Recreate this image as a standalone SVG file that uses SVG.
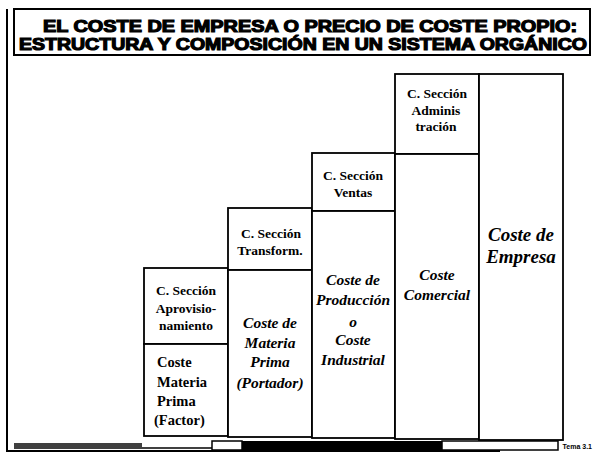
<svg xmlns="http://www.w3.org/2000/svg" width="595" height="454" viewBox="0 0 595 454">
<style>
.box{fill:#fff;stroke:#000;stroke-width:1.8}
.frame{fill:none;stroke:#000;stroke-width:2}
.t{font-family:"Liberation Serif","Times New Roman",serif;font-weight:bold;fill:#000;text-anchor:middle}
.s{font-size:13.5px}
.i{font-style:italic;font-size:15.5px}
.n{font-size:14.5px;text-anchor:start}
.title{font-family:"Liberation Sans",Arial,sans-serif;font-weight:900;font-size:17px;fill:#000;text-anchor:middle;stroke:#000;stroke-width:1.2}
</style>
<rect width="595" height="454" fill="#fff"/>
<g id="frame">
<path class="frame" d="M7,9 V451 H500"/>
<rect x="14" y="9" width="576" height="46" class="frame"/>
<text class="title" x="310" y="32" textLength="534" lengthAdjust="spacingAndGlyphs">EL COSTE DE EMPRESA O PRECIO DE COSTE PROPIO:</text>
<text class="title" x="303" y="50" textLength="568" lengthAdjust="spacingAndGlyphs">ESTRUCTURA Y COMPOSICIÓN EN UN  SISTEMA ORGÁNICO</text>
</g>
<g id="col1">
<rect class="box" x="144" y="268" width="84" height="76"/>
<rect class="box" x="144" y="344" width="84" height="92"/>
<text class="t s" x="186" y="295">C. Sección</text>
<text class="t s" x="186" y="313">Aprovisio-</text>
<text class="t s" x="186" y="330">namiento</text>
<text class="t n" x="157" y="367">Coste</text>
<text class="t n" x="157" y="387">Materia</text>
<text class="t n" x="157" y="406">Prima</text>
<text class="t n" x="154" y="425">(Factor)</text>
</g>
<g id="col2">
<rect class="box" x="228" y="208" width="84" height="62"/>
<rect class="box" x="228" y="270" width="84" height="167"/>
<text class="t s" x="271" y="238">C. Sección</text>
<text class="t s" x="270" y="255">Transform.</text>
<text class="t i" x="270" y="328">Coste de</text>
<text class="t i" x="270" y="348">Materia</text>
<text class="t i" x="270" y="367">Prima</text>
<text class="t i" x="270" y="388">(Portador)</text>
</g>
<g id="col3">
<rect class="box" x="312" y="153" width="83" height="58"/>
<rect class="box" x="312" y="211" width="83" height="227"/>
<text class="t s" x="353" y="180">C. Sección</text>
<text class="t s" x="353" y="197">Ventas</text>
<text class="t i" x="353" y="285">Coste de</text>
<text class="t i" x="353" y="305">Producción</text>
<text class="t i" x="353" y="327">o</text>
<text class="t i" x="353" y="345">Coste</text>
<text class="t i" x="353" y="365">Industrial</text>
</g>
<g id="col4">
<rect class="box" x="395" y="74" width="84" height="80"/>
<rect class="box" x="395" y="154" width="84" height="285"/>
<text class="t s" x="437" y="98">C. Sección</text>
<text class="t s" x="436" y="115">Adminis</text>
<text class="t s" x="436" y="131">tración</text>
<text class="t i" x="437" y="280">Coste</text>
<text class="t i" x="437" y="300">Comercial</text>
</g>
<g id="col5">
<rect class="box" x="479" y="74" width="84" height="366"/>
<text class="t i" style="font-size:19px" x="521" y="241">Coste de</text>
<text class="t i" style="font-size:19px" x="521" y="263">Empresa</text>
</g>
<g id="footer">
<rect x="14" y="443" width="128" height="6" fill="#000" opacity="0.75"/>
<line x1="142" y1="448" x2="212" y2="448" stroke="#000" stroke-width="1.5"/>
<rect x="212" y="441" width="30" height="9" fill="#fff" stroke="#000" stroke-width="1.5"/>
<rect x="242" y="441" width="200" height="9" fill="#000"/>
<rect x="442" y="441" width="116" height="9" fill="#fff" stroke="#000" stroke-width="1.5"/>
<text x="592" y="449" style="font-family:'Liberation Sans',Arial,sans-serif;font-weight:bold;font-size:7px;text-anchor:end">Tema 3.1</text>
</g>
</svg>
